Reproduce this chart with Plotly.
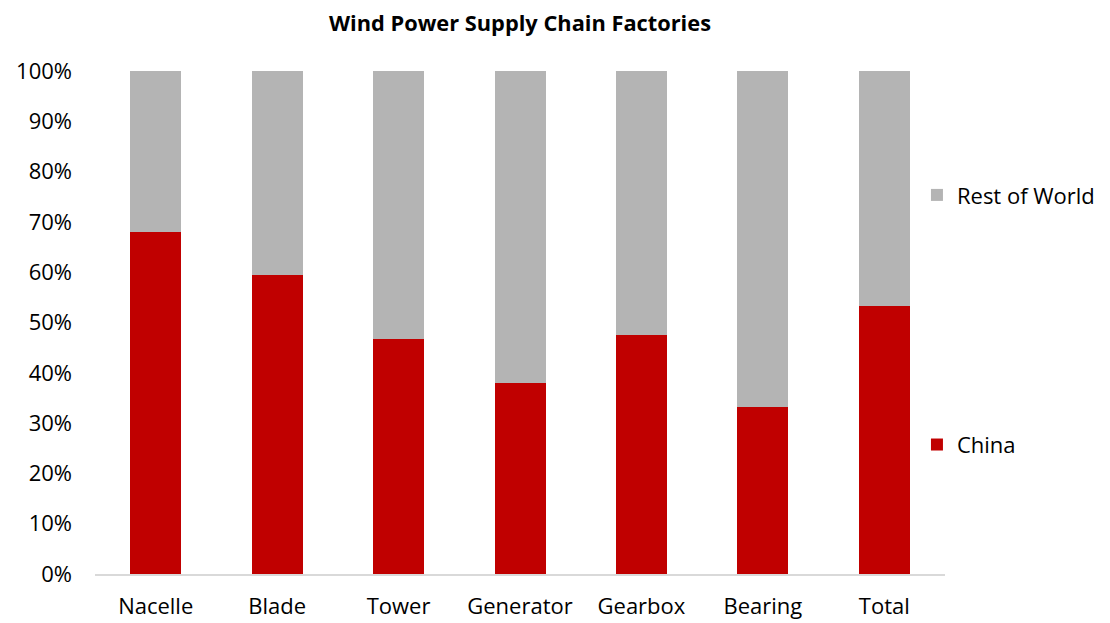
import plotly.graph_objects as go

categories = ["Nacelle", "Blade", "Tower", "Generator", "Gearbox", "Bearing", "Total"]
china = [68.0, 59.4, 46.7, 37.9, 47.5, 33.2, 53.2]
rest_of_world = [100 - v for v in china]

RED = "#C00000"
GREY = "#B4B4B4"
FONT = "Open Sans, Liberation Sans, sans-serif"

fig = go.Figure()
fig.add_trace(go.Bar(
    x=categories, y=china, name="China", legendgroup="china", legendrank=2,
    marker=dict(color=RED, line=dict(width=0)),
))
fig.add_trace(go.Bar(
    x=categories, y=rest_of_world, name="Rest of World", legendgroup="row", legendrank=1,
    marker=dict(color=GREY, line=dict(width=0)),
))

# page body has an 8px margin, so the figure is sized to fit inside the window
fig.update_layout(
    barmode="stack",
    bargap=0.58,
    width=1102, height=615,
    paper_bgcolor="white", plot_bgcolor="white",
    margin=dict(l=87, r=165, t=63, b=49, autoexpand=False),
    font=dict(family=FONT, size=22, color="#000000"),
    title=dict(text="<b>Wind Power Supply Chain Factories</b>", x=0.5, xref="paper",
               y=0.975, yanchor="middle", font=dict(size=21.8, family=FONT)),
    legend=dict(x=0.967, xanchor="left", y=0.795, yanchor="top",
                traceorder="grouped", tracegroupgap=218,
                font=dict(size=22), itemwidth=30),
    xaxis=dict(showline=True, linecolor="#D9D9D9", linewidth=1.5, ticks="",
               showgrid=False, tickfont=dict(size=22), ticklabelstandoff=12,
               automargin=False),
    yaxis=dict(range=[0, 100], dtick=10, ticksuffix="%", showgrid=False,
               showline=False, zeroline=False, tickfont=dict(size=22),
               ticklabelstandoff=22, automargin=False),
)

fig.write_html("out.html")
